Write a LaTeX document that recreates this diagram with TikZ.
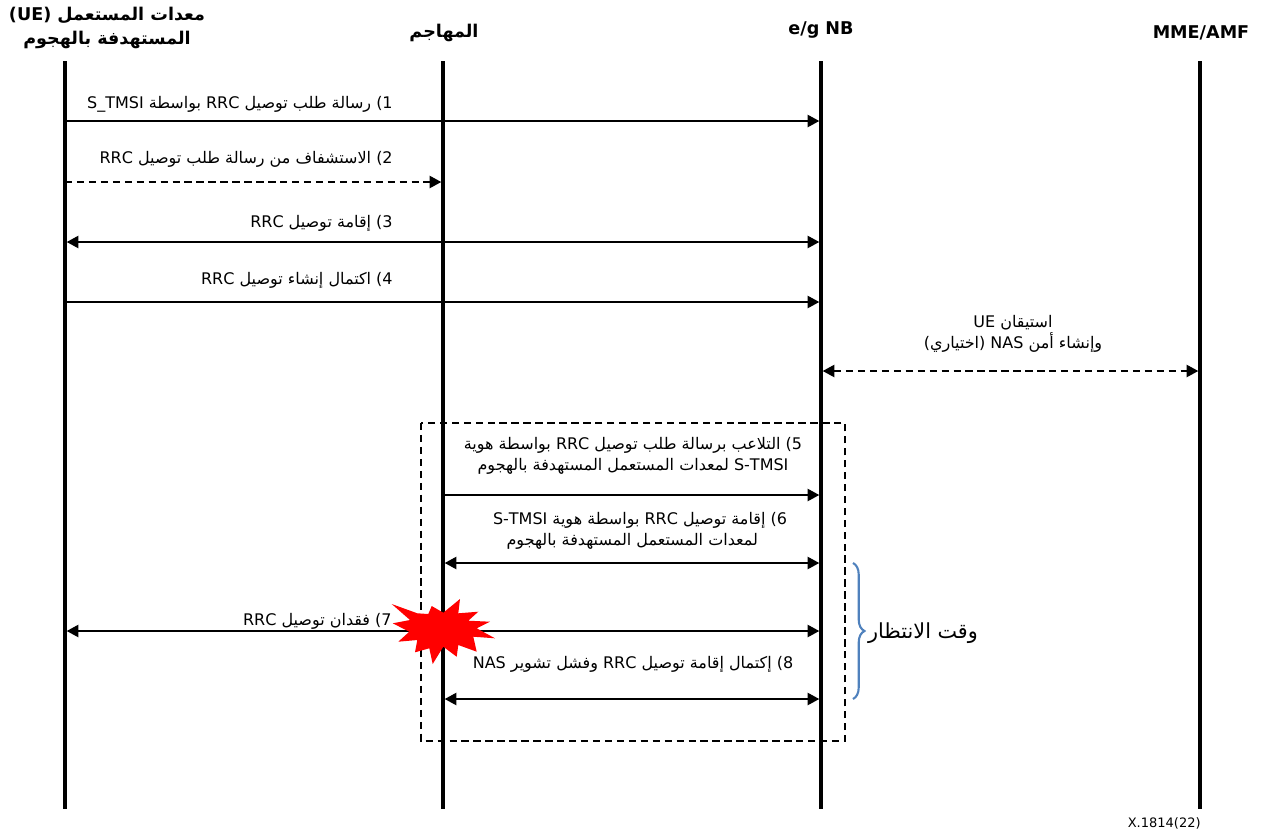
\documentclass[tikz,border=0pt]{standalone}
\usepackage{fontspec}
\setmainfont{DejaVu Sans}
\newfontfamily\arabicfont[Script=Arabic]{DejaVu Sans}
\TeXXeTstate=1
\definecolor{bracecolor}{RGB}{79,129,189}
\definecolor{burstred}{RGB}{255,0,0}
\usetikzlibrary{arrows.meta,positioning,decorations.pathreplacing}
\newcommand{\ltr}[1]{\beginL #1\endL{}}

\begin{document}
\begin{tikzpicture}[x=0.2mm,y=-0.2mm,
  lifeline/.style={line width=2pt},
  msgline/.style={line width=0.8pt},
  tiparrow/.style={msgline,-{Triangle[length=6.6pt,width=7pt]},shorten >=1pt},
  twoarrow/.style={msgline,{Triangle[length=6.6pt,width=7pt]}-{Triangle[length=6.6pt,width=7pt]},shorten >=1pt,shorten <=1pt},
  dashline/.style={dash pattern=on 4.2pt off 2.6pt},
  headtext/.style={align=center,font=\fontsize{10}{13.6}\selectfont\bfseries\arabicfont,inner sep=0pt},
  msgtext/.style={font=\fontsize{9.1}{12.2}\selectfont\arabicfont,inner sep=0pt}
]
  \useasboundingbox (0,0) rectangle (1261,839);
  % Lifelines
  \coordinate (uetop) at (65,61);
  \coordinate (uebot) at (65,809);
  \coordinate (atttop) at (443,61);
  \coordinate (attbot) at (443,809);
  \coordinate (enbtop) at (821,61);
  \coordinate (enbbot) at (821,809);
  \coordinate (mmetop) at (1200,61);
  \coordinate (mmebot) at (1200,809);
  \draw[lifeline] (uetop) -- (uebot);
  \draw[lifeline] (atttop) -- (attbot);
  \draw[lifeline] (enbtop) -- (enbbot);
  \draw[lifeline] (mmetop) -- (mmebot);
  % Headers
  \node[headtext] (uehead) at (107,28) {\beginR معدات المستعمل \ltr{(UE)}\endR\\\beginR المستهدفة بالهجوم\endR};
  \node[headtext] (atthead) at (444,33) {\beginR المهاجم\endR};
  \node[headtext] (enbhead) at (821,30) {e/g NB};
  \node[headtext] (mmehead) at (1201,33) {MME/AMF};
  % Message rows
  \coordinate (r1) at (0,121);
  \coordinate (r2) at (0,182);
  \coordinate (r3) at (0,242);
  \coordinate (r4) at (0,302);
  \coordinate (r5) at (0,371);
  \coordinate (r6) at (0,495);
  \coordinate (r7) at (0,563);
  \coordinate (r8) at (0,631);
  \coordinate (r9) at (0,699);
  \draw[tiparrow] (uetop |- r1) -- (enbtop |- r1);
  \draw[tiparrow,dashline] (uetop |- r2) -- (atttop |- r2);
  \draw[twoarrow] (uetop |- r3) -- (enbtop |- r3);
  \draw[tiparrow] (uetop |- r4) -- (enbtop |- r4);
  \draw[twoarrow,dashline] (enbtop |- r5) -- (mmetop |- r5);
  \draw[tiparrow] (atttop |- r6) -- (enbtop |- r6);
  \draw[twoarrow] (atttop |- r7) -- (enbtop |- r7);
  \draw[twoarrow] (uetop |- r8) -- (enbtop |- r8);
  \draw[twoarrow] (atttop |- r9) -- (enbtop |- r9);
  % Labels
  \node[msgtext,anchor=east] (m1) at (393,104) {\beginR\ltr{1)} رسالة طلب توصيل \ltr{RRC} بواسطة \ltr{S\_TMSI}\endR};
  \node[msgtext,anchor=east] (m2) at (393,159) {\beginR\ltr{2)} الاستشفاف من رسالة طلب توصيل \ltr{RRC}\endR};
  \node[msgtext,anchor=east] (m3) at (393,223) {\beginR\ltr{3)} إقامة توصيل \ltr{RRC}\endR};
  \node[msgtext,anchor=east] (m4) at (393,280) {\beginR\ltr{4)} اكتمال إنشاء توصيل \ltr{RRC}\endR};
  \node[msgtext,align=center] (auth) at (1013,334) {\beginR استيقان \ltr{UE}\endR\\\beginR وإنشاء أمن \ltr{NAS} (اختياري)\endR};
  \node[msgtext,align=center] (m5) at (633,456) {\beginR\ltr{5)} التلاعب برسالة طلب توصيل \ltr{RRC} بواسطة هوية\endR\\\beginR\ltr{S-TMSI} لمعدات المستعمل المستهدفة بالهجوم\endR};
  \node[msgtext,align=right] (m6) at (640,531) {\beginR\ltr{6)} إقامة توصيل \ltr{RRC} بواسطة هوية \ltr{S-TMSI}\endR\\\beginR لمعدات المستعمل المستهدفة بالهجوم\endR\hspace*{16.5pt}};
  \node[msgtext,anchor=east] (m7) at (392,621) {\beginR\ltr{7)} فقدان توصيل \ltr{RRC}\endR};
  \node[msgtext] (m8) at (633,664) {\beginR\ltr{8)} إكتمال إقامة توصيل \ltr{RRC} وفشل تشوير \ltr{NAS}\endR};
  % Attack window
  \draw[line width=0.65pt,dashline] (421,423) rectangle (845,741);
  \coordinate (bracetop) at (853,563);
  \coordinate (bracebot) at (853,699);
  \draw[bracecolor,line width=1.2pt,decorate,decoration={brace,amplitude=6.5pt}] (bracetop) -- (bracebot);
  \node[font=\fontsize{11.8}{14}\selectfont\arabicfont,inner sep=0pt] (wait) at (923,633) {\beginR وقت الانتظار\endR};
  % Burst
  \fill[burstred] (391.7,604) -- (417.3,613.3) -- (428.3,614) -- (431.7,606) -- (443.3,612.7)
    -- (460,599) -- (458.3,613.3) -- (478.3,611.7) -- (468.3,620.7) -- (490,621.7)
    -- (476.7,628.3) -- (495,638.3) -- (473.3,636.7) -- (476.7,651.7) -- (458.3,645)
    -- (456.7,656.7) -- (443.3,646.7) -- (432.7,664) -- (429.3,648.3) -- (415,652.3)
    -- (417.3,640) -- (398.3,641.7) -- (409.3,631.7) -- (392.7,623.3) -- (410,620) -- cycle;
  % Figure number
  \node[font=\fontsize{7.4}{9}\selectfont,anchor=east,inner sep=0pt] (figno) at (1201,823) {X.1814(22)};
\end{tikzpicture}
\end{document}
